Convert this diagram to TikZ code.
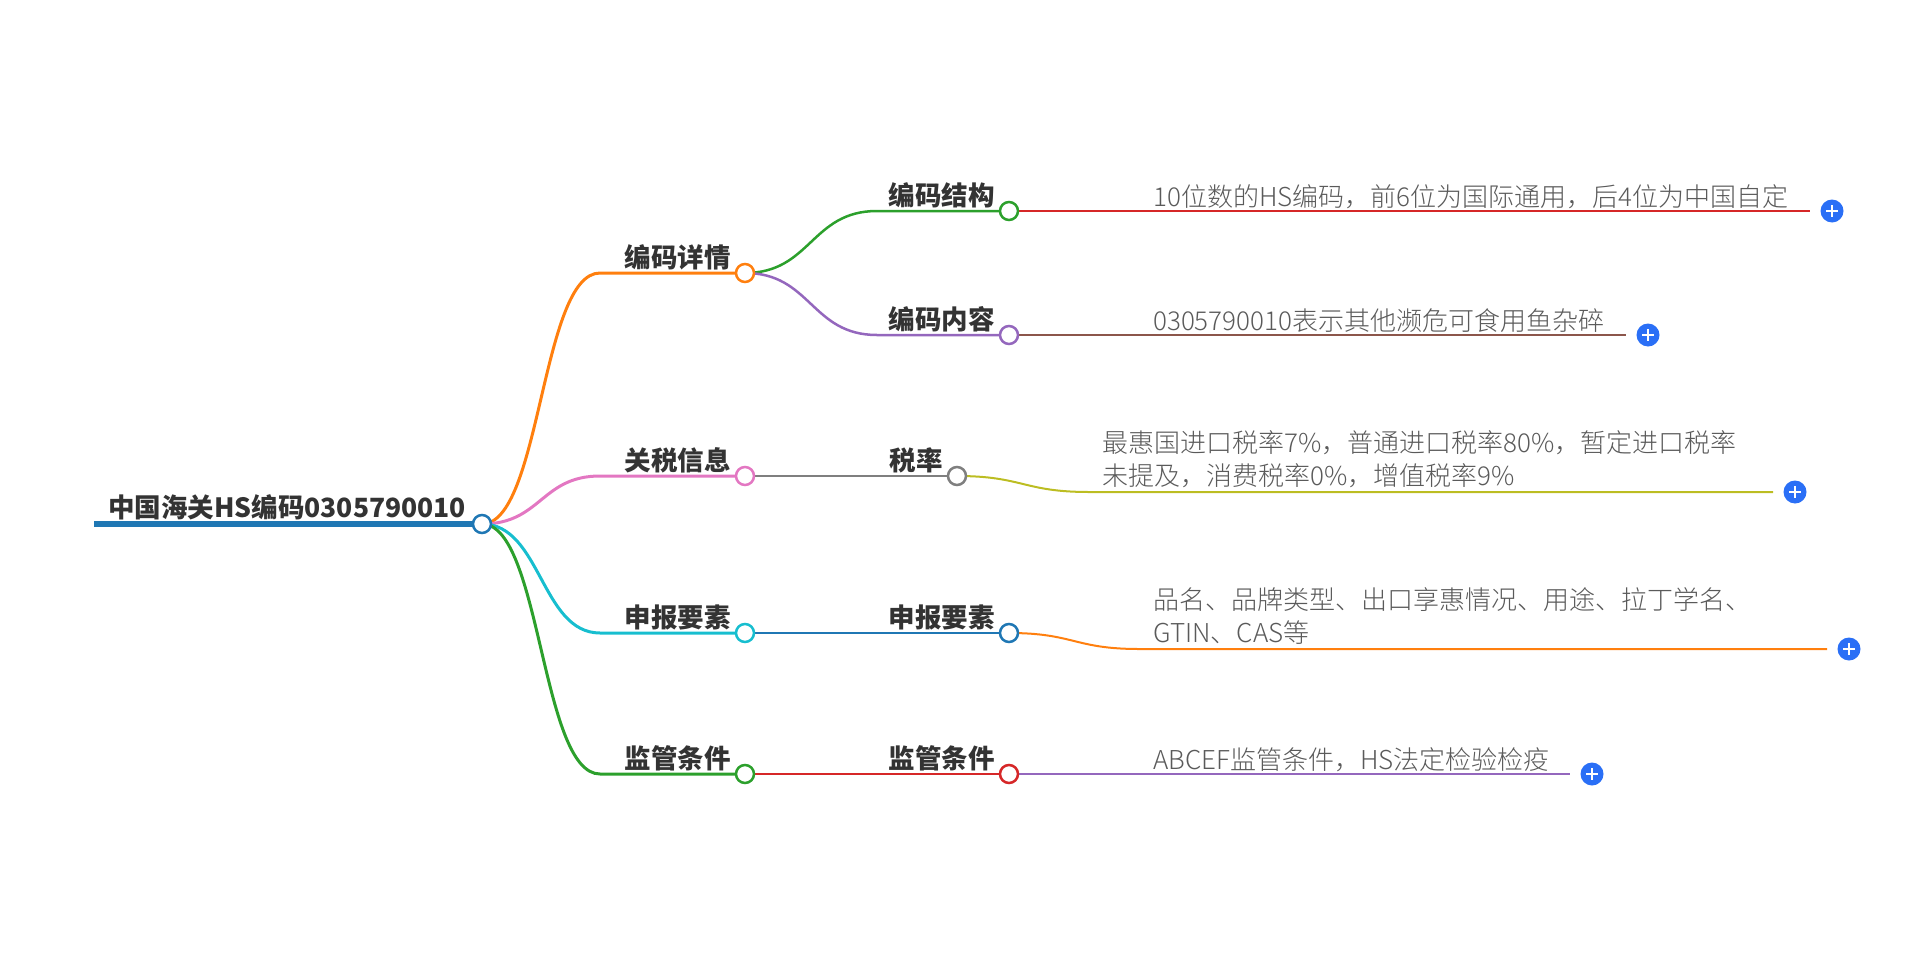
\documentclass[tikz,border=0pt]{standalone}
\usepackage{fontspec}
\newfontfamily\cjk{Noto Sans CJK SC}
\newfontfamily\cjklight{Noto Sans CJK SC Light}
\usetikzlibrary{calc}
\definecolor{corange}{HTML}{FF7F0E}
\definecolor{cpink}{HTML}{E377C2}
\definecolor{ccyan}{HTML}{17BECF}
\definecolor{cgreen}{HTML}{2CA02C}
\definecolor{cpurple}{HTML}{9467BD}
\definecolor{cred}{HTML}{D62728}
\definecolor{cbrown}{HTML}{8C564B}
\definecolor{cgray}{HTML}{7F7F7F}
\definecolor{colive}{HTML}{BCBD22}
\definecolor{cblue}{HTML}{1F77B4}
\definecolor{plusblue}{HTML}{2A6FF6}
\definecolor{textdark}{HTML}{333333}
\definecolor{leafgray}{HTML}{5A5A5A}
\pgfdeclarelayer{bg}
\pgfsetlayers{bg,main}
\begin{document}
\begin{tikzpicture}[x=1pt,y=-1pt,
  dot/.style={circle, draw=#1, fill=white, line width=2.5pt, minimum size=18pt, inner sep=0pt},
  lab/.style={font=\cjk\bfseries\fontsize{26.5}{26.5}\selectfont, text=textdark, inner sep=0pt, anchor=base east},
  leaf/.style={font=\cjklight\fontsize{26}{33}\selectfont, text=leafgray, inner sep=0pt, anchor=base west, align=left},
  pluss/.style={circle, fill=plusblue, minimum size=23pt, inner sep=0pt,
    path picture={\draw[white, line width=2.2pt]
      ($(path picture bounding box.center)+(-6,0)$) -- ($(path picture bounding box.center)+(6,0)$)
      ($(path picture bounding box.center)+(0,-6)$) -- ($(path picture bounding box.center)+(0,6)$);}},
  e1/.style={line width=3pt, line cap=round},
  e2/.style={line width=2.5pt, line cap=round},
  e3/.style={line width=2pt},
]
\useasboundingbox (0,0) rectangle (1920,953);

% circles
\node[dot=cblue] (r) at (482,524) {};
\node[dot=corange] (a) at (745,273) {};
\node[dot=cpink] (b) at (745,476) {};
\node[dot=ccyan] (c) at (745,633) {};
\node[dot=cgreen] (d) at (745,774) {};
\node[dot=cgreen] (e) at (1009,211) {};
\node[dot=cpurple] (f) at (1009,335) {};
\node[dot=cgray] (g) at (957,476) {};
\node[dot=cblue] (h) at (1009,633) {};
\node[dot=cred] (i) at (1009,774) {};

% coordinates
\coordinate (rs) at (94,524);
\coordinate (ua) at (600,273);
\coordinate (ub) at (600,476);
\coordinate (uc) at (600,633);
\coordinate (ud) at (600,774);
\coordinate (ue) at (877,211);
\coordinate (uf) at (877,335);
\coordinate (ug) at (877,476);
\coordinate (uh) at (877,633);
\coordinate (ui) at (877,774);
\coordinate (le) at (1139,211);
\coordinate (lf) at (1139,335);
\coordinate (lg) at (1089,492);
\coordinate (lh) at (1139,649);
\coordinate (li) at (1139,774);
\coordinate (ee) at (1810,211);
\coordinate (ef) at (1626,335);
\coordinate (eg) at (1773,492);
\coordinate (eh) at (1827,649);
\coordinate (ei) at (1570,774);

% plus icons
\node[pluss] (pe) at (1832,211) {};
\node[pluss] (pf) at (1648,335) {};
\node[pluss] (pg) at (1795,492) {};
\node[pluss] (ph) at (1849,649) {};
\node[pluss] (pi) at (1592,774) {};

\begin{pgfonlayer}{bg}
\draw[line width=6pt, cblue] (rs) -- (r.center);
\draw[e1, corange] (r.center) .. controls +(59,0) and +(-59,0) .. (ua) -- (a.center);
\draw[e1, cpink] (r.center) .. controls +(59,0) and +(-59,0) .. (ub) -- (b.center);
\draw[e1, ccyan] (r.center) .. controls +(59,0) and +(-59,0) .. (uc) -- (c.center);
\draw[e1, cgreen] (r.center) .. controls +(59,0) and +(-59,0) .. (ud) -- (d.center);
\draw[e2, cgreen] (a.center) .. controls +(66,0) and +(-66,0) .. (ue) -- (e.center);
\draw[e2, cpurple] (a.center) .. controls +(66,0) and +(-66,0) .. (uf) -- (f.center);
\draw[e2, cgray] (b.center) -- (ug) -- (g.center);
\draw[e2, cblue] (c.center) -- (uh) -- (h.center);
\draw[e2, cred] (d.center) -- (ui) -- (i.center);
\draw[e3, cred] (e.center) -- (le) -- (ee);
\draw[e3, cbrown] (f.center) -- (lf) -- (ef);
\draw[e3, colive] (g.center) .. controls +(66,0) and +(-66,0) .. (lg) -- (eg);
\draw[e3, corange] (h.center) .. controls +(65,0) and +(-65,0) .. (lh) -- (eh);
\draw[e3, cpurple] (i.center) -- (li) -- (ei);
\end{pgfonlayer}

% labels
\node[lab, anchor=base west] (rt) at (108,517) {中国海关HS编码0305790010};
\node[lab] (ta) at (731,267) {编码详情};
\node[lab] (tb) at (731,470) {关税信息};
\node[lab] (tc) at (731,627) {申报要素};
\node[lab] (td) at (731,768) {监管条件};
\node[lab] (te) at (995,205) {编码结构};
\node[lab] (tf) at (995,329) {编码内容};
\node[lab] (tg) at (943,470) {税率};
\node[lab] (th) at (995,627) {申报要素};
\node[lab] (ti) at (995,768) {监管条件};

\node[leaf] (xe) at (1153,206) {10位数的HS编码，前6位为国际通用，后4位为中国自定};
\node[leaf] (xf) at (1153,330) {0305790010表示其他濒危可食用鱼杂碎};
\node[leaf] (xg) at (1102,485) {最惠国进口税率7\%，普通进口税率80\%，暂定进口税率\\未提及，消费税率0\%，增值税率9\%};
\node[leaf] (xh) at (1153,642) {品名、品牌类型、出口享惠情况、用途、拉丁学名、\\GTIN、CAS等};
\node[leaf] (xi) at (1153,769) {ABCEF监管条件，HS法定检验检疫};
\end{tikzpicture}
\end{document}
